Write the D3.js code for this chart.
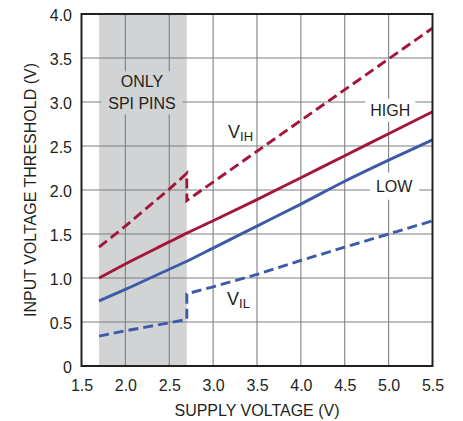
<!DOCTYPE html>
<html>
<head>
<meta charset="utf-8">
<script src="https://cdn.jsdelivr.net/npm/d3@7"></script>
<style>
  html, body { margin: 0; padding: 0; background: #fff; }
  svg { display: block; font-family: "Liberation Sans", Arial, sans-serif; }
</style>
</head>
<body>
<svg id="chart" width="463" height="421"></svg>
<script>
// Supply voltage sample points (V)
const supplyV = [1.7, 2.0, 2.5, 2.7, 3.0, 3.5, 4.0, 4.5, 5.0, 5.5];
// Typical switching thresholds (V)
const highV = [1.00, 1.16, 1.41, 1.51, 1.65, 1.89, 2.14, 2.39, 2.64, 2.89];
const lowV  = [0.74, 0.87, 1.10, 1.19, 1.34, 1.59, 1.84, 2.10, 2.34, 2.57];
// Guaranteed limits; the step at 2.7V is where the SPI-only range ends
const limitSupplyV = [1.7, 2.0, 2.5, 2.7, 2.7, 3.0, 3.5, 4.0, 4.5, 5.0, 5.5];
const vihV = [1.35, 1.59, 2.01, 2.19, 1.88, 2.09, 2.44, 2.79, 3.14, 3.49, 3.84];
const vilV = [0.34, 0.40, 0.49, 0.53, 0.82, 0.90, 1.04, 1.20, 1.35, 1.50, 1.65];
// SPI-only supply range
const spiRange = [1.7, 2.7];
// Axis ticks
const xTicks = [1.5, 2.0, 2.5, 3.0, 3.5, 4.0, 4.5, 5.0, 5.5];
const yTicks = [0, 0.5, 1.0, 1.5, 2.0, 2.5, 3.0, 3.5, 4.0];

const RED = "#a3163a";
const BLUE = "#3d5aa8";
const SHADE = "#d1d3d4";
const TEXT = "#231f20";
const GRID = "#7f7f7f";

const svg = d3.select("#chart");
const x = d3.scaleLinear().domain([1.5, 5.5]).range([81.5, 432.5]);
const y = d3.scaleLinear().domain([0, 4]).range([366, 14]);

// Shaded SPI-only region
svg.append("rect")
  .attr("x", x(spiRange[0])).attr("y", y(4))
  .attr("width", x(spiRange[1]) - x(spiRange[0]))
  .attr("height", y(0) - y(4))
  .attr("fill", SHADE);

// Grid
svg.append("g").selectAll("line").data(xTicks.slice(1, -1)).join("line")
  .attr("x1", d => x(d)).attr("x2", d => x(d))
  .attr("y1", y(0)).attr("y2", y(4))
  .attr("stroke", GRID).attr("stroke-width", 1.1);
svg.append("g").selectAll("line").data(yTicks.slice(1, -1)).join("line")
  .attr("x1", x(1.5)).attr("x2", x(5.5))
  .attr("y1", d => y(d)).attr("y2", d => y(d))
  .attr("stroke", GRID).attr("stroke-width", 1.1);

// Axes (labels only, frame drawn separately)
const fmt = d => d === 0 ? "0" : d3.format(".1f")(d);
const xAxis = svg.append("g").attr("transform", `translate(0,${y(0)})`)
  .call(d3.axisBottom(x).tickValues(xTicks).tickFormat(fmt).tickSize(0).tickPadding(0));
xAxis.select(".domain").remove();
xAxis.selectAll("text").attr("y", 24.7).attr("dy", null)
  .attr("font-size", 16).attr("fill", TEXT).attr("font-family", "Liberation Sans, Arial, sans-serif");

const yAxis = svg.append("g").attr("transform", `translate(${x(1.5)},0)`)
  .call(d3.axisLeft(y).tickValues(yTicks).tickFormat(fmt).tickSize(0).tickPadding(0));
yAxis.select(".domain").remove();
yAxis.selectAll("text").attr("x", -9.5).attr("dy", "0.41em")
  .attr("font-size", 16).attr("fill", TEXT).attr("font-family", "Liberation Sans, Arial, sans-serif");

// Axis titles
svg.append("text")
  .attr("x", (x(1.5) + x(5.5)) / 2).attr("y", 415.7)
  .attr("text-anchor", "middle").attr("font-size", 16).attr("fill", TEXT)
  .text("SUPPLY VOLTAGE (V)");
svg.append("text")
  .attr("transform", `translate(35.5,${(y(0) + y(4)) / 2}) rotate(-90)`)
  .attr("text-anchor", "middle").attr("font-size", 16).attr("fill", TEXT)
  .text("INPUT VOLTAGE THRESHOLD (V)");

// Text labels that knock out the grid behind them
function boxedLabel(lines, cx, baselines, fill, padX, padY) {
  const g = svg.append("g");
  const bg = g.append("rect").attr("fill", fill);
  const texts = lines.map((t, i) => g.append("text")
    .attr("x", cx).attr("y", baselines[i])
    .attr("text-anchor", "middle").attr("font-size", 16).attr("fill", TEXT)
    .text(t));
  let x0 = Infinity, y0 = Infinity, x1 = -Infinity, y1 = -Infinity;
  texts.forEach(t => {
    const b = t.node().getBBox();
    x0 = Math.min(x0, b.x); y0 = Math.min(y0, b.y);
    x1 = Math.max(x1, b.x + b.width); y1 = Math.max(y1, b.y + b.height);
  });
  bg.attr("x", x0 - padX).attr("y", y0 - padY)
    .attr("width", x1 - x0 + 2 * padX).attr("height", y1 - y0 + 2 * padY);
}
boxedLabel(["ONLY", "SPI PINS"], 142, [87.3, 109.3], SHADE, 7, 2);
boxedLabel(["HIGH"], 390.3, [115.7], "#fff", 5, 3);
boxedLabel(["LOW"], 394.2, [191.7], "#fff", 6, 5);

// Threshold curves: smooth typical curves, piecewise guaranteed limits
const smooth = d3.line().x(d => x(d[0])).y(d => y(d[1])).curve(d3.curveMonotoneX);
const straight = d3.line().x(d => x(d[0])).y(d => y(d[1]));
const series = [
  { xs: supplyV, ys: highV, color: RED, dash: null, gen: smooth },
  { xs: supplyV, ys: lowV, color: BLUE, dash: null, gen: smooth },
  { xs: limitSupplyV, ys: vihV, color: RED, dash: "10,5", gen: straight },
  { xs: limitSupplyV, ys: vilV, color: BLUE, dash: "10,5", gen: straight }
];
series.forEach(s => {
  svg.append("path")
    .attr("d", s.gen(s.xs.map((v, i) => [v, s.ys[i]])))
    .attr("fill", "none").attr("stroke", s.color).attr("stroke-width", 2.9)
    .attr("stroke-dasharray", s.dash);
});

// V_IH / V_IL labels
function subLabel(main, sub, x0, base) {
  const t = svg.append("text").attr("x", x0).attr("y", base)
    .attr("fill", TEXT).attr("font-size", 18);
  t.append("tspan").text(main);
  t.append("tspan").attr("font-size", 13).attr("dy", 3.3).text(sub);
}
subLabel("V", "IH", 228, 137.7);
subLabel("V", "IL", 227, 305);

// Plot frame
svg.append("rect")
  .attr("x", x(1.5)).attr("y", y(4))
  .attr("width", x(5.5) - x(1.5)).attr("height", y(0) - y(4))
  .attr("fill", "none").attr("stroke", TEXT).attr("stroke-width", 2);
</script>
</body>
</html>
